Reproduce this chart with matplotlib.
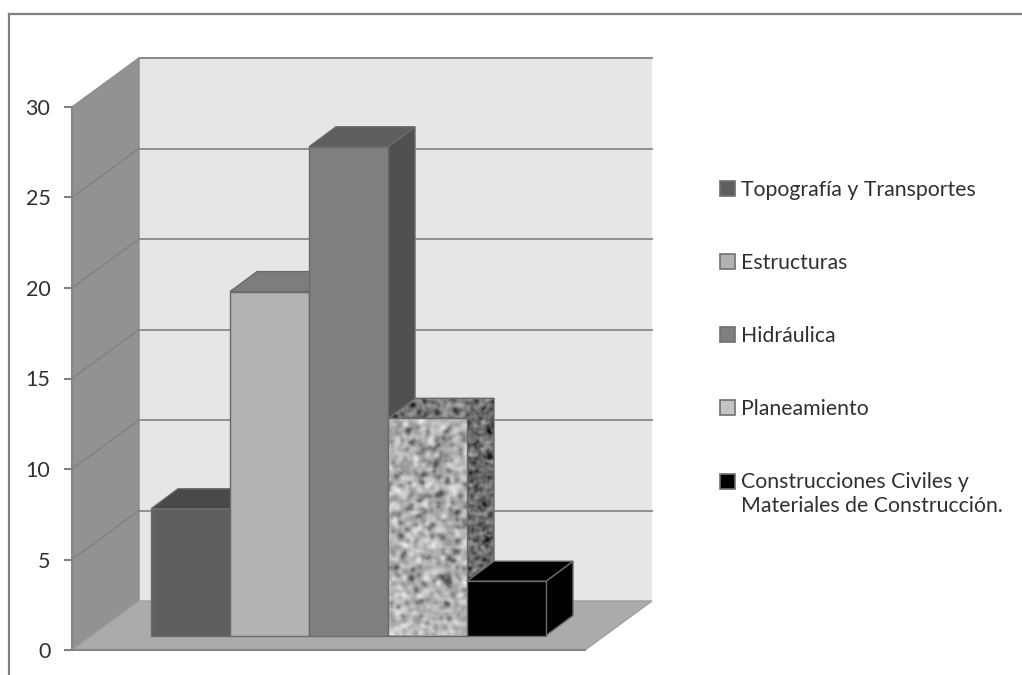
import numpy as np
import matplotlib
matplotlib.use("Agg")
import matplotlib.pyplot as plt
from matplotlib.lines import Line2D
from matplotlib.patches import Patch, Polygon

plt.rcParams["font.family"] = ["Lato", "DejaVu Sans"]

# Series shown as one 3-D column each
categories = ["Topografía y Transportes", "Estructuras", "Hidráulica",
              "Planeamiento", "Construcciones Civiles y\nMateriales de Construcción."]
values = [7, 19, 27, 12, 3]
y_ticks = [0, 5, 10, 15, 20, 25, 30]

front_colors = ["#5f5f5f", "#b2b2b2", "#7f7f7f", "#b9b9b9", "#000000"]
top_colors = ["#484848", "#7d7d7d", "#5e5e5e", "#7a7a7a", "#000000"]
side_colors = ["#4a4a4a", "#8a8a8a", "#505050", "#6c6c6c", "#000000"]
textured = [False, False, False, True, False]

W, H = 1022, 675
fig = plt.figure(figsize=(W / 100, H / 100), dpi=100, facecolor="white")

# Axes box is the front plane of the chart; one x unit equals one column width
L, R, T, B = 72, 585, 107, 650
ax = fig.add_axes([L / W, 1 - B / H, (R - L) / W, (B - T) / H])
COL_W = 79.0
X0 = 151.0
ax.set_xlim((L - X0) / COL_W, (R - X0) / COL_W)
ax.set_ylim(0, 30)
ax.patch.set_visible(False)
UNIT_Y = (B - T) / 30.0


def proj(x, v, dx_px=0.0, dy_px=0.0):
    """Shift a data point by a screen offset, used for the oblique projection."""
    return x + dx_px / COL_W, v + dy_px / UNIT_Y


# Depth of the chart box in pixels
BOX_DX, BOX_DY = 67, 49
xl, xr = ax.get_xlim()


def box(x, v):
    return proj(x, v, BOX_DX, BOX_DY)


def face(points, fc, ec="#8a8a8a", lw=1.0, z=1):
    p = Polygon(points, closed=True, facecolor=fc, edgecolor=ec, linewidth=lw,
                zorder=z, clip_on=False)
    ax.add_patch(p)
    return p


# Walls and floor
face([box(xl, 0), box(xr, 0), box(xr, 30), box(xl, 30)], "#e6e6e6", ec="none", z=1)
ax.plot(*zip(box(xl, 30), box(xr, 30)), color="#8a8a8a", lw=1.4, zorder=1.05, clip_on=False)
face([(xl, 0), box(xl, 0), box(xl, 30), (xl, 30)], "#929292", ec="#8c8c8c", z=1.1)
face([(xl, 0), (xr, 0), box(xr, 0), box(xl, 0)], "#ababab", ec="#a0a0a0", z=1.2)

# Gridlines across the left and back walls
for t in y_ticks[1:-1]:
    ax.plot(*zip((xl, t), box(xl, t)), color="#7f7f7f", lw=0.9, zorder=1.3, clip_on=False)
    ax.plot(*zip(box(xl, t), box(xr, t)), color="#8a8a8a", lw=1.3, zorder=1.3, clip_on=False)


def granite(seed, size):
    """Smoothed noise with dark flecks for the stone-like Planeamiento fill."""
    rng = np.random.default_rng(seed)
    a = rng.random(size)
    a = (a + np.roll(a, 1, 0) + np.roll(a, -1, 0) + np.roll(a, 1, 1) + np.roll(a, -1, 1)) / 5
    a = (a - a.mean()) / a.std()
    return np.where(a < -1.5, a * 1.7, a)


def textured_face(points, base, spread, seed, z, cell=2.2):
    pts = np.array(points)
    e = [pts[:, 0].min(), pts[:, 0].max(), pts[:, 1].min(), pts[:, 1].max()]
    rows = max(4, int((e[3] - e[2]) * UNIT_Y / cell))
    cols = max(4, int((e[1] - e[0]) * COL_W / cell))
    patch = face(points, "none", ec="#6a6a6a", z=z + 0.01)
    im = ax.imshow(np.clip(base + spread * granite(seed, (rows, cols)), 0, 255),
                   cmap="gray", vmin=0, vmax=255, extent=e, aspect="auto",
                   interpolation="bicubic", zorder=z, clip_on=True)
    im.set_clip_path(patch)


# Columns sit on the floor, set back from the front edge
BASE_DY = 14.5
DEPTH_DX, DEPTH_DY = 27, 20
for i, val in enumerate(values):
    x0, x1 = float(i), float(i + 1)
    base = BASE_DY / UNIT_Y
    top = base + val
    z = 3 + i
    f = [(x0, base), (x1, base), (x1, top), (x0, top)]
    t = [(x0, top), (x1, top), proj(x1, top, DEPTH_DX, DEPTH_DY), proj(x0, top, DEPTH_DX, DEPTH_DY)]
    s = [(x1, base), proj(x1, base, DEPTH_DX, DEPTH_DY), proj(x1, top, DEPTH_DX, DEPTH_DY), (x1, top)]
    edge = "#6a6a6a"
    if textured[i]:
        textured_face(s, 105, 26, 11, z, cell=1.6)
        textured_face(t, 122, 24, 12, z + 0.1, cell=1.8)
        textured_face(f, 176, 27, 13, z + 0.2)
    else:
        face(s, side_colors[i], ec=edge, z=z)
        face(t, top_colors[i], ec=edge, z=z + 0.1)
        face(f, front_colors[i], ec=edge, z=z + 0.2)

# imshow resets the limits, so restore them
ax.set_xlim(xl, xr)
ax.set_ylim(0, 30)

# Axis styling
ax.set_xticks([])
ax.set_yticks(y_ticks)
ax.tick_params(axis="y", length=5.5, width=1.5, color="#808080", pad=10,
               labelsize=15.5, labelcolor="#303030")
for name in ("top", "right"):
    ax.spines[name].set_visible(False)
for name in ("left", "bottom"):
    ax.spines[name].set_color("#858585")
    ax.spines[name].set_linewidth(1.5)
    ax.spines[name].set_zorder(2)

# Legend
handles = [Patch(facecolor=c, edgecolor="#707070", linewidth=1.2)
           for c in ["#5f5f5f", "#b2b2b2", "#7f7f7f", "#c4c4c4", "#000000"]]
leg = fig.legend(handles, categories, loc="upper left",
                 bbox_to_anchor=(720 / W, 1 - 180 / H), bbox_transform=fig.transFigure,
                 frameon=False, fontsize=15.3, labelcolor="#303030",
                 handlelength=0.7, handleheight=0.7, handletextpad=0.3,
                 labelspacing=2.5, borderpad=0, borderaxespad=0)
# The two-line entry keeps its swatch beside the first line
leg.get_texts()[4].set_linespacing(1.25)
leg.legend_handles[4].set_y(leg.legend_handles[4].get_y() + 10)

# Outer frame, open on the right and at the bottom
fig.add_artist(Line2D([9 / W, 9 / W], [0, 1 - 13.5 / H], color="#808080", lw=1.6))
fig.add_artist(Line2D([9 / W, 1], [1 - 13.5 / H, 1 - 13.5 / H], color="#808080", lw=1.6))

fig.savefig("out.png", dpi=100)
